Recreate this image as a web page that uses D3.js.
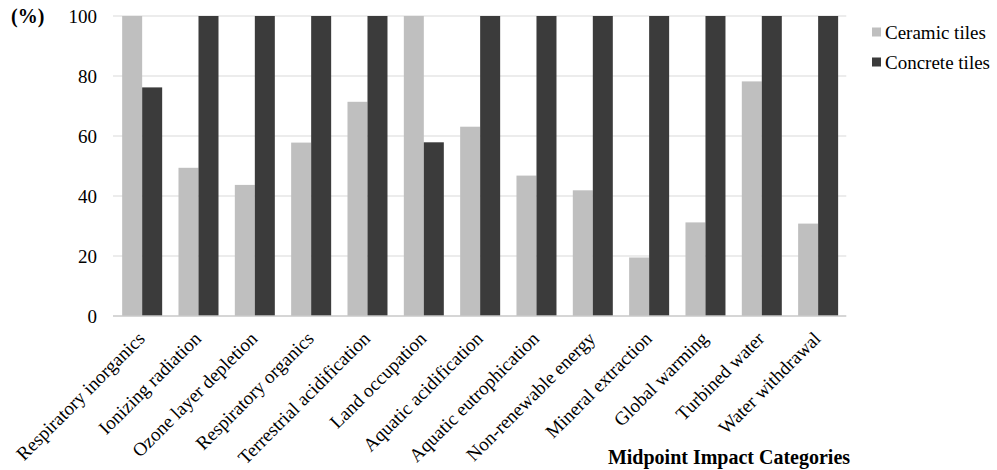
<!DOCTYPE html>
<html>
<head>
<meta charset="utf-8">
<script src="https://cdn.jsdelivr.net/npm/d3@7"></script>
<style>
  body { margin: 0; background: #fff; }
  svg { display: block; }
  text { font-family: "Liberation Serif", "Times New Roman", serif; fill: #000; }
</style>
</head>
<body>
<svg id="chart" width="997" height="470"></svg>
<script>
const categories = [
  "Respiratory inorganics", "Ionizing radiation", "Ozone layer depletion",
  "Respiratory organics", "Terrestrial acidification", "Land occupation",
  "Aquatic acidification", "Aquatic eutrophication", "Non-renewable energy",
  "Mineral extraction", "Global warming", "Turbined water", "Water withdrawal"
];
const seriesNames = ["Ceramic tiles", "Concrete tiles"];
const ceramic  = [100, 49.4, 43.7, 57.8, 71.4, 100, 63.1, 46.8, 41.9, 19.5, 31.2, 78.2, 30.8];
const concrete = [76.2, 100, 100, 100, 100, 57.9, 100, 100, 100, 100, 100, 100, 100];
const yTicks = [0, 20, 40, 60, 80, 100];
const colors = ["#bfbfbf", "#3b3b3b"];

(function () {
const svg = d3.select("#chart");
const mLeft = 114, mRight = 846.3, mTop = 16, mBottom = 316;
const fs = 19;

const x0 = d3.scaleBand().domain(categories).range([mLeft, mRight]).paddingInner(0).paddingOuter(0);
const x1 = d3.scaleBand().domain(seriesNames).range([0, 40]);
const y = d3.scaleLinear().domain([0, 100]).range([mBottom, mTop]);

// gridlines
svg.append("g").selectAll("line").data(yTicks.filter(t => t > 0)).join("line")
  .attr("x1", mLeft - 1).attr("x2", mRight)
  .attr("y1", d => y(d)).attr("y2", d => y(d))
  .attr("stroke", "#d9d9d9").attr("stroke-width", 1);

// y tick labels
svg.append("g").selectAll("text").data(yTicks).join("text")
  .attr("x", 97).attr("y", d => y(d)).attr("dy", "0.35em")
  .attr("text-anchor", "end").attr("font-size", fs)
  .text(d => d);

// bars
const series = [ceramic, concrete];
const groups = svg.append("g").selectAll("g").data(categories).join("g")
  .attr("transform", d => `translate(${x0(d) + x0.bandwidth() / 2 - 20},0)`);
groups.selectAll("rect")
  .data((d, i) => seriesNames.map((s, j) => ({ s, v: series[j][i], j })))
  .join("rect")
  .attr("x", d => x1(d.s))
  .attr("width", x1.bandwidth())
  .attr("y", d => y(d.v))
  .attr("height", d => y(0) - y(d.v))
  .attr("fill", d => colors[d.j]);

// x axis line
svg.append("line").attr("x1", mLeft - 1).attr("x2", mRight)
  .attr("y1", mBottom).attr("y2", mBottom)
  .attr("stroke", "#c8c8c8").attr("stroke-width", 1.5);

// category labels
svg.append("g").selectAll("text").data(categories).join("text")
  .attr("transform", d => `translate(${x0(d) + x0.bandwidth() / 2 - 1},${mBottom + 19}) rotate(-45)`)
  .attr("text-anchor", "end").attr("dy", "0.35em").attr("font-size", fs)
  .text(d => d);

// y unit label
svg.append("text").attr("x", 11).attr("y", 23)
  .attr("font-size", 20).attr("font-weight", "bold").text("(%)");

// x axis title
svg.append("text").attr("x", 729).attr("y", 464)
  .attr("text-anchor", "middle").attr("font-size", 20).attr("font-weight", "bold")
  .text("Midpoint Impact Categories");

// legend
const legend = svg.append("g").selectAll("g").data(seriesNames).join("g")
  .attr("transform", (d, i) => `translate(872,${32 + i * 30})`);
legend.append("rect").attr("x", 0).attr("y", -4.5).attr("width", 9).attr("height", 9)
  .attr("fill", (d, i) => colors[i]);
legend.append("text").attr("x", 13).attr("y", 0).attr("dy", "0.35em")
  .attr("font-size", fs).text(d => d);
})();
</script>
</body>
</html>
